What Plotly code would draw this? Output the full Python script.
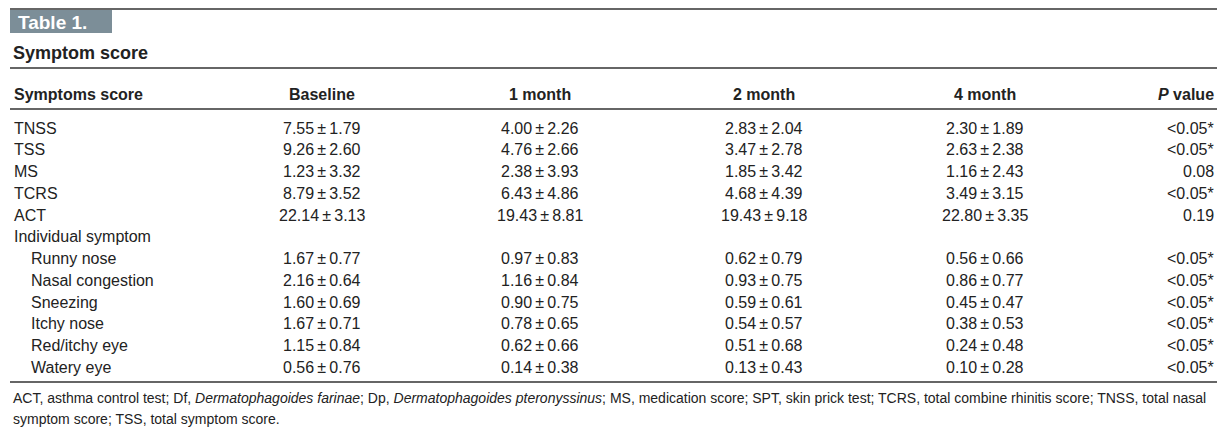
import plotly.graph_objects as go

columns = ["Symptoms score", "Baseline", "1 month", "2 month", "4 month", "<i>P</i> value"]
row_labels = ["TNSS", "TSS", "MS", "TCRS", "ACT", "Individual symptom",
              "Runny nose", "Nasal congestion", "Sneezing", "Itchy nose",
              "Red/itchy eye", "Watery eye"]
indented = [False] * 6 + [True] * 6
baseline = ["7.55 ± 1.79", "9.26 ± 2.60", "1.23 ± 3.32", "8.79 ± 3.52", "22.14 ± 3.13", "",
            "1.67 ± 0.77", "2.16 ± 0.64", "1.60 ± 0.69", "1.67 ± 0.71", "1.15 ± 0.84", "0.56 ± 0.76"]
month1 = ["4.00 ± 2.26", "4.76 ± 2.66", "2.38 ± 3.93", "6.43 ± 4.86", "19.43 ± 8.81", "",
          "0.97 ± 0.83", "1.16 ± 0.84", "0.90 ± 0.75", "0.78 ± 0.65", "0.62 ± 0.66", "0.14 ± 0.38"]
month2 = ["2.83 ± 2.04", "3.47 ± 2.78", "1.85 ± 3.42", "4.68 ± 4.39", "19.43 ± 9.18", "",
          "0.62 ± 0.79", "0.93 ± 0.75", "0.59 ± 0.61", "0.54 ± 0.57", "0.51 ± 0.68", "0.13 ± 0.43"]
month4 = ["2.30 ± 1.89", "2.63 ± 2.38", "1.16 ± 2.43", "3.49 ± 3.15", "22.80 ± 3.35", "",
          "0.56 ± 0.66", "0.86 ± 0.77", "0.45 ± 0.47", "0.38 ± 0.53", "0.24 ± 0.48", "0.10 ± 0.28"]
pvalues = ["<0.05*", "<0.05*", "0.08", "<0.05*", "0.19", "",
           "<0.05*", "<0.05*", "<0.05*", "<0.05*", "<0.05*", "<0.05*"]
footnote = ["ACT, asthma control test; Df, <i>Dermatophagoides farinae</i>; Dp, <i>Dermatophagoides pteronyssinus</i>; "
            "MS, medication score; SPT, skin prick test; TCRS, total combine rhinitis score; TNSS, total nasal",
            "symptom score; TSS, total symptom score."]

FONT = "Liberation Sans Narrow, Arial Narrow, Liberation Sans, sans-serif"
WIDE = "Liberation Sans, Arial, sans-serif"
col_x = [12, 322, 540, 764, 985, 1216]
col_anchor = ["left", "center", "center", "center", "center", "right"]

fig = go.Figure()
ann = []

def txt(x, y, s, anchor="left", size=16, bold=False, color="#222", family=FONT):
    ann.append(dict(x=x, y=y, text=f"<b>{s}</b>" if bold else s, xanchor=anchor, yanchor="middle",
                    showarrow=False, font=dict(family=family, size=size, color=color)))

# title block
fig.add_shape(type="rect", x0=10, x1=112, y0=10, y1=33, fillcolor="#7c8e98", line_width=0)
txt(16, 22, "Table 1.", size=19, bold=True, color="white", family=WIDE)
txt(11, 53, "Symptom score", size=18, bold=True, family=WIDE)

for y in [9, 68, 109, 382]:
    fig.add_shape(type="line", x0=10, x1=1217, y0=y, y1=y, line=dict(color="#333", width=1.3))

for x, a, c in zip(col_x, col_anchor, columns):
    txt(x, 94, c, anchor=a, bold=True)

y0, dy = 128, 21.75
for i, lab in enumerate(row_labels):
    y = y0 + i * dy
    txt(12 + (17 if indented[i] else 0), y, lab)
    for x, a, vals in zip(col_x[1:], col_anchor[1:], [baseline, month1, month2, month4, pvalues]):
        if vals[i]:
            txt(x, y, vals[i].replace("<", "&lt;").replace(" ± ", "\u2009±\u2009"), anchor=a)

txt(11, 398, footnote[0], size=14)
txt(11, 419, footnote[1], size=14)

fig.update_layout(
    annotations=ann, width=1224, height=439, margin=dict(l=0, r=0, t=0, b=0),
    plot_bgcolor="white", paper_bgcolor="white",
    xaxis=dict(range=[0, 1224], visible=False, fixedrange=True),
    yaxis=dict(range=[439, 0], visible=False, fixedrange=True),
)
fig.write_html("out.html", config={"displayModeBar": False},
               post_script="document.body.style.margin='0';document.body.style.overflow='hidden';")
